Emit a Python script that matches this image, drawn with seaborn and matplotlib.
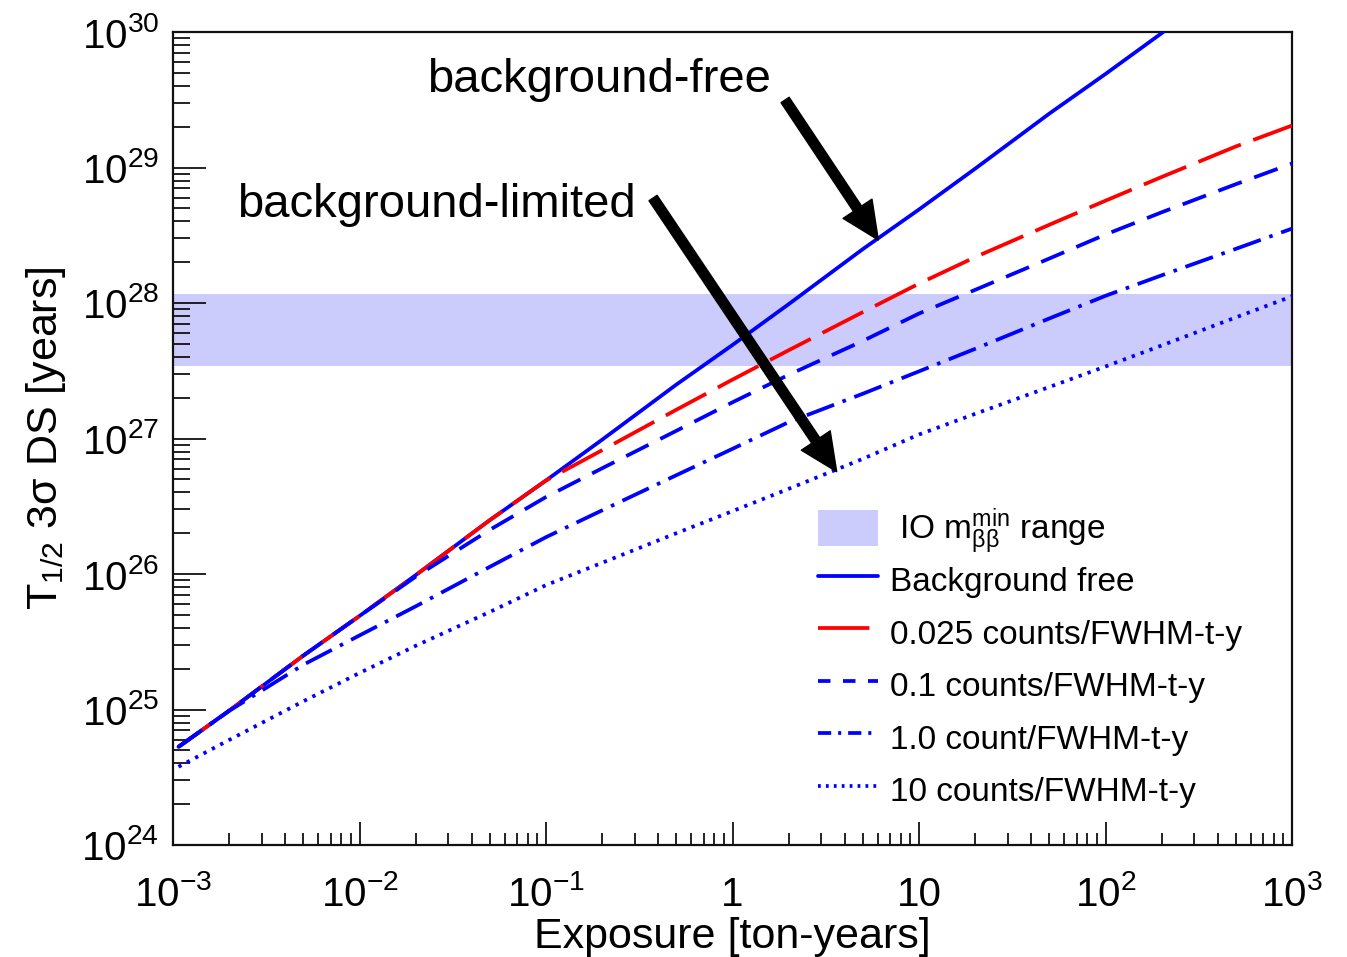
import numpy as np
import pandas as pd
import matplotlib
matplotlib.use("Agg")
import matplotlib.pyplot as plt
import seaborn as sns
from matplotlib.lines import Line2D
from matplotlib.patches import Patch, Rectangle
from matplotlib.legend_handler import HandlerPatch
from matplotlib.ticker import FixedLocator, FixedFormatter, LogLocator, NullFormatter

sns.set_theme(style="white")
plt.rcParams["font.family"] = ["Liberation Sans", "DejaVu Sans"]
plt.rcParams["mathtext.fontset"] = "custom"
plt.rcParams["mathtext.rm"] = "Liberation Sans"
plt.rcParams["mathtext.it"] = "Liberation Sans:italic"
plt.rcParams["mathtext.bf"] = "Liberation Sans:bold"
plt.rcParams["lines.scale_dashes"] = False
plt.rcParams["text.color"] = "black"
plt.rcParams["axes.labelcolor"] = "black"

# Exposure grid [ton-years]
exposure = [1.07e-3, 2e-3, 5e-3, 1e-2, 2e-2, 5e-2, 0.1, 0.2, 0.5, 1, 2, 5,
            10, 20, 50, 100, 200, 500, 1000]

# 3 sigma discovery sensitivity on T1/2 [years] per background level
t_bkg_free = [5.3e24, 9.8e24, 2.5e25, 4.9e25, 9.8e25, 2.5e26, 4.9e26, 9.8e26,
              2.5e27, 4.9e27, 9.8e27, 2.5e28, 4.9e28, 9.8e28, 2.5e29, 4.9e29,
              9.8e29, 2.5e30, 4.9e30]
t_bkg_0025 = [5.3e24, 9.8e24, 2.5e25, 4.9e25, 9.8e25, 2.5e26, 4.9e26, 8.2e26,
              1.63e27, 2.72e27, 4.48e27, 8.57e27, 1.39e28, 2.18e28, 3.78e28,
              5.69e28, 8.51e28, 1.43e29, 2.04e29]
t_bkg_01 = [5.3e24, 9.8e24, 2.5e25, 4.9e25, 9.55e25, 2.12e26, 3.70e26, 6.03e26,
            1.14e27, 1.85e27, 2.95e27, 5.25e27, 8.36e27, 1.25e28, 2.13e28,
            3.20e28, 4.67e28, 7.53e28, 1.07e29]
t_bkg_1 = [5.3e24, 9.77e24, 2.14e25, 3.52e25, 5.77e25, 1.13e26, 1.87e26, 2.95e26,
           5.36e26, 8.39e26, 1.32e27, 2.14e27, 3.13e27, 4.59e27, 7.69e27,
           1.13e28, 1.60e28, 2.51e28, 3.54e28]
t_bkg_10 = [3.78e24, 5.96e24, 1.15e25, 1.86e25, 2.95e25, 5.25e25, 8.28e25,
            1.21e26, 2.00e26, 2.91e26, 4.25e26, 7.08e26, 1.07e27, 1.52e27,
            2.40e27, 3.40e27, 4.86e27, 7.83e27, 1.12e28]

series_names = ["Background free", "0.025 counts/FWHM-t-y", "0.1 counts/FWHM-t-y",
                "1.0 count/FWHM-t-y", "10 counts/FWHM-t-y"]
series_values = [t_bkg_free, t_bkg_0025, t_bkg_01, t_bkg_1, t_bkg_10]

# Inverted-ordering m_bb minimum range expressed as half-life band
io_band = [3.45e27, 1.16e28]
io_label = r"IO $\mathrm{m}_{\mathrm{ββ}}^{\mathrm{min}}$ range"

x_tick_values = [1e-3, 1e-2, 1e-1, 1, 10, 1e2, 1e3]
x_tick_labels = [r"$10^{-3}$", r"$10^{-2}$", r"$10^{-1}$", "1", "10", r"$10^{2}$", r"$10^{3}$"]
y_tick_values = [1e24, 1e25, 1e26, 1e27, 1e28, 1e29, 1e30]
y_tick_labels = [r"$10^{24}$", r"$10^{25}$", r"$10^{26}$", r"$10^{27}$",
                 r"$10^{28}$", r"$10^{29}$", r"$10^{30}$"]

df = pd.DataFrame({
    "exposure": np.tile(exposure, len(series_names)),
    "halflife": np.concatenate(series_values),
    "series": np.repeat(series_names, len(exposure)),
})

band_color = "#ccccfc"
LW = 2.7
palette = dict(zip(series_names, ["#0000ff", "#ff0000", "#0000ff", "#0000ff", "#0000ff"]))
dash_map = dict(zip(series_names, ["", (33, 9.5), (18, 9.5), (21, 6.5, 2.6, 6.5), (2.4, 4.4)]))

fig = plt.figure(figsize=(13.47, 9.57), dpi=100)
ax = fig.add_axes([173 / 1347, 1 - 845 / 957, (1292 - 173) / 1347, (845 - 32) / 957])

ax.axhspan(io_band[0], io_band[1], color=band_color, lw=0, zorder=0.5)

sns.lineplot(data=df, x="exposure", y="halflife", hue="series", style="series",
             palette=palette, dashes=dash_map, hue_order=series_names,
             style_order=series_names, linewidth=LW, sort=False,
             estimator=None, legend=False, ax=ax, zorder=3)

ax.set_xscale("log")
ax.set_yscale("log")
ax.set_xlim(1e-3, 1e3)
ax.set_ylim(1e24, 1e30)

ax.xaxis.set_major_locator(FixedLocator(x_tick_values))
ax.xaxis.set_major_formatter(FixedFormatter(x_tick_labels))
ax.yaxis.set_major_locator(FixedLocator(y_tick_values))
ax.yaxis.set_major_formatter(FixedFormatter(y_tick_labels))
ax.xaxis.set_minor_locator(LogLocator(base=10, subs=np.arange(2, 10), numticks=100))
ax.yaxis.set_minor_locator(LogLocator(base=10, subs=np.arange(2, 10), numticks=100))
ax.xaxis.set_minor_formatter(NullFormatter())
ax.yaxis.set_minor_formatter(NullFormatter())

ax.tick_params(which="both", direction="in", bottom=True, left=True,
               top=False, right=False, color="#111111", width=1.3,
               labelcolor="black")
ax.tick_params(axis="x", which="major", length=16.5, pad=44, labelsize=29)
ax.tick_params(axis="x", which="minor", length=8.6)
ax.tick_params(axis="y", which="major", length=24, pad=10, labelsize=29)
ax.tick_params(axis="y", which="minor", length=12.2)
for tick in ax.xaxis.get_major_ticks():
    tick.label1.set_verticalalignment("baseline")

for side in ["left", "bottom", "top", "right"]:
    ax.spines[side].set_color("#111111")
    ax.spines[side].set_linewidth(1.6)

ax.set_xlabel("Exposure [ton-years]", fontsize=31, color="black")
ax.set_ylabel(r"T$_{1/2}$ 3σ DS [years]", fontsize=31, color="black")
ax.xaxis.set_label_coords(0.5, -0.088)
ax.yaxis.set_label_coords(-0.094, 0.5)

# Annotations pointing at the two regimes
arrow_style = "simple,head_length=2.7,head_width=2.5,tail_width=0.7"
ax.text(0.227, 0.926, "background-free", transform=ax.transAxes,
        fontsize=34, ha="left", va="baseline", color="black")
ax.annotate("", xy=(0.6303, 0.7442), xytext=(0.547, 0.9164),
            xycoords="axes fraction", textcoords="axes fraction",
            arrowprops=dict(arrowstyle=arrow_style, color="black",
                            mutation_scale=10, shrinkA=0, shrinkB=0), zorder=5)
ax.text(0.0572, 0.7724, "background-limited", transform=ax.transAxes,
        fontsize=34, ha="left", va="baseline", color="black")
ax.annotate("", xy=(0.5931, 0.4592), xytext=(0.429, 0.7958),
            xycoords="axes fraction", textcoords="axes fraction",
            arrowprops=dict(arrowstyle=arrow_style, color="black",
                            mutation_scale=10, shrinkA=0, shrinkB=0), zorder=5)


def band_swatch(legend, orig_handle, xdescent, ydescent, width, height, fontsize):
    h = 1.08 * fontsize
    return Rectangle((-xdescent, -ydescent + (height - h) / 2), width, h)


# Legend: band entry on its own, then the five sensitivity curves
band_leg = fig.legend([Patch(facecolor=band_color, edgecolor="none")], [io_label],
                      loc="center left", bbox_to_anchor=(818 / 1347, 1 - 531 / 957),
                      frameon=False, fontsize=24, handlelength=1.8, handleheight=1.42,
                      handletextpad=0.62, borderpad=0, borderaxespad=0,
                      labelcolor="black",
                      handler_map={Patch: HandlerPatch(patch_func=band_swatch)})

line_handles = [
    Line2D([], [], color="#0000ff", lw=LW),
    Line2D([], [], color="#ff0000", lw=LW, dashes=(37, 20)),
    Line2D([], [], color="#0000ff", lw=LW, dashes=(9, 9)),
    Line2D([], [], color="#0000ff", lw=LW, dashes=(9.5, 5, 2.2, 5)),
    Line2D([], [], color="#0000ff", lw=LW, dashes=(2, 3.7)),
]
line_leg = fig.legend(line_handles, series_names, loc="center left",
                      bbox_to_anchor=(818 / 1347, 1 - 685 / 957),
                      frameon=False, fontsize=24, handlelength=1.8, handleheight=1.42,
                      handletextpad=0.36, labelspacing=0.405, borderpad=0,
                      borderaxespad=0, labelcolor="black")

fig.savefig("out.png", dpi=100, facecolor="white")
